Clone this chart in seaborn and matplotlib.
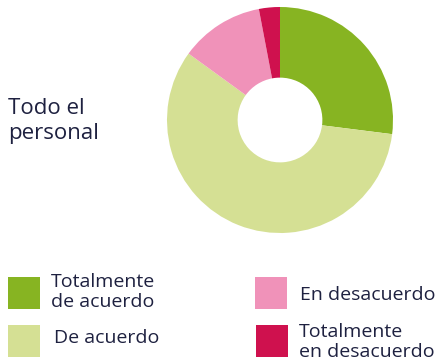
import matplotlib
matplotlib.use("Agg")
import matplotlib.pyplot as plt
from matplotlib.patches import Rectangle
import seaborn as sns

categories = ["Totalmente\nde acuerdo", "De acuerdo", "En desacuerdo", "Totalmente\nen desacuerdo"]
values = [27, 58, 12, 3]
colors = ["#87b422", "#d5e094", "#f092b9", "#cf114e"]
title = "Todo el\npersonal"

sns.set_theme(style="white")
plt.rcParams["font.family"] = ["Open Sans", "DejaVu Sans"]
text_color = "#1e2140"

W, H = 441, 360
fig = plt.figure(figsize=(W / 100, H / 100), dpi=100)
fig.patch.set_facecolor("white")

# donut
cx, cy, r = 280, 120, 113
ax = fig.add_axes([(cx - r) / W, (H - cy - r) / H, 2 * r / W, 2 * r / H])
ax.pie(values, colors=colors, startangle=90, counterclock=False,
       wedgeprops=dict(width=0.625, linewidth=0))
ax.set_xlim(-1, 1)
ax.set_ylim(-1, 1)
ax.set_aspect("equal")
ax.axis("off")

fig.text(8 / W, 1 - 121 / H, title, ha="left", va="center", fontsize=16,
         color=text_color, linespacing=1.2, fontweight="medium")

# legend
slots = [(8, 293), (8, 341), (255, 293), (256, 341)]
text_x = [51, 54, 300, 299]
text_y = [292, 338, 295, 342]
for (x, y), tx, ty, lab, col in zip(slots, text_x, text_y, categories, colors):
    fig.patches.append(Rectangle((x / W, 1 - (y + 16) / H), 32 / W, 32 / H,
                                 transform=fig.transFigure, facecolor=col,
                                 edgecolor="none"))
    fig.text(tx / W, 1 - ty / H, lab, ha="left", va="center", fontsize=14,
             color=text_color, linespacing=1.08, fontweight="medium")

fig.savefig("out.png", dpi=100)
